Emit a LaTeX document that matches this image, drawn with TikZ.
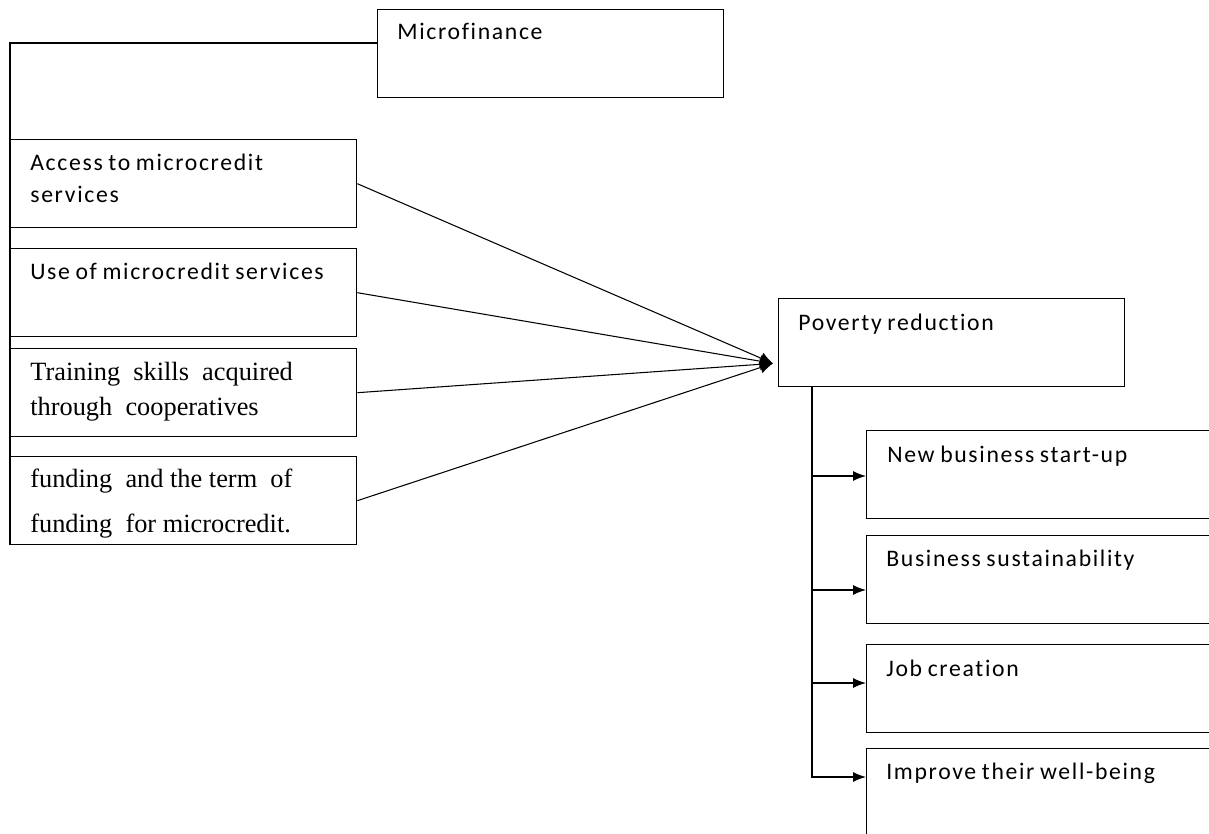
\documentclass[tikz,border=0pt]{standalone}
\usepackage{fontspec}
\setmainfont{Liberation Serif}
\newfontfamily\boxsans[LetterSpace=7, WordSpace=0.8, Ligatures=NoCommon]{Carlito}
\usetikzlibrary{arrows.meta}

\begin{document}
\begin{tikzpicture}[x=0.02cm, y=-0.02cm,
  box/.style={draw, line width=0.8pt, anchor=north west, minimum width=6.92cm, minimum height=1.76cm, inner sep=0pt},
  wide/.style={box, minimum width=7.6cm},
  lbl/.style={anchor=base west, inner sep=0pt, align=left, font=\boxsans\fontsize{13.5}{18.7}\selectfont},
  serif/.style={lbl, font=\rmfamily\fontsize{15}{19.8}\selectfont},
  feed/.style={line width=0.6pt, -{Latex[length=2.6mm, width=2.4mm]}},
  branch/.style={line width=0.7pt, -{Latex[length=2.6mm, width=2mm]}}]
  \useasboundingbox (0,0) rectangle (1209,834);
  \clip (0,0) rectangle (1209,834);

  % boxes
  \node[box] (mf) at (377,9) {};
  \node[box] (access) at (10,139) {};
  \node[box] (use) at (10,248) {};
  \node[box] (train) at (10,348) {};
  \node[box] (fund) at (10,456) {};
  \node[box] (pov) at (778,298) {};
  \node[wide] (nb) at (866,430) {};
  \node[wide] (bs) at (866,535) {};
  \node[wide] (job) at (866,644) {};
  \node[wide] (wb) at (866,748) {};

  % texts (base of the last line)
  \node[lbl] (mf-t) at ([shift={(20,31)}]mf.north west) {Microfinance};
  \node[lbl] (access-t) at ([shift={(20,64)}]access.north west) {Access to microcredit\\services};
  \node[lbl] (use-t) at ([shift={(20,31)}]use.north west) {Use of microcredit services};
  \node[serif] (train-t) at ([shift={(20,67)}]train.north west) {Training~ skills~ acquired\\through~ cooperatives};
  \begin{scope}
    \clip (fund.north west) rectangle ([shift={(0,-8)}]fund.south east);
    \node[serif, font=\rmfamily\fontsize{15}{25.5}\selectfont] (fund-t) at ([shift={(20,76)}]fund.north west) {funding~ and the term~ of\\funding~ for microcredit.};
  \end{scope}
  \node[lbl] (pov-t) at ([shift={(20,32)}]pov.north west) {Poverty reduction};
  \node[lbl] (nb-t) at ([shift={(21,32)}]nb.north west) {New business start-up};
  \node[lbl] (bs-t) at ([shift={(20,31)}]bs.north west) {Business sustainability};
  \node[lbl] (job-t) at ([shift={(20,32)}]job.north west) {Job creation};
  \node[lbl] (wb-t) at ([shift={(20,31)}]wb.north west) {Improve their well-being};

  % left side
  \draw[line width=0.7pt] ([shift={(0,34)}]mf.north west) -| (fund.south west);
  \coordinate (hub) at ([shift={(-5,-24)}]pov.south west);
  \foreach \src in {access, use, train, fund}
    \draw[feed] (\src.east) -- (hub);

  % right side
  \coordinate (spine) at ([shift={(34,0)}]pov.south west);
  \foreach \b/\d in {nb/46, bs/55, job/39, wb/29}
    \draw[branch] (spine) |- ([shift={(0,\d)}]\b.north west);
\end{tikzpicture}
\end{document}
